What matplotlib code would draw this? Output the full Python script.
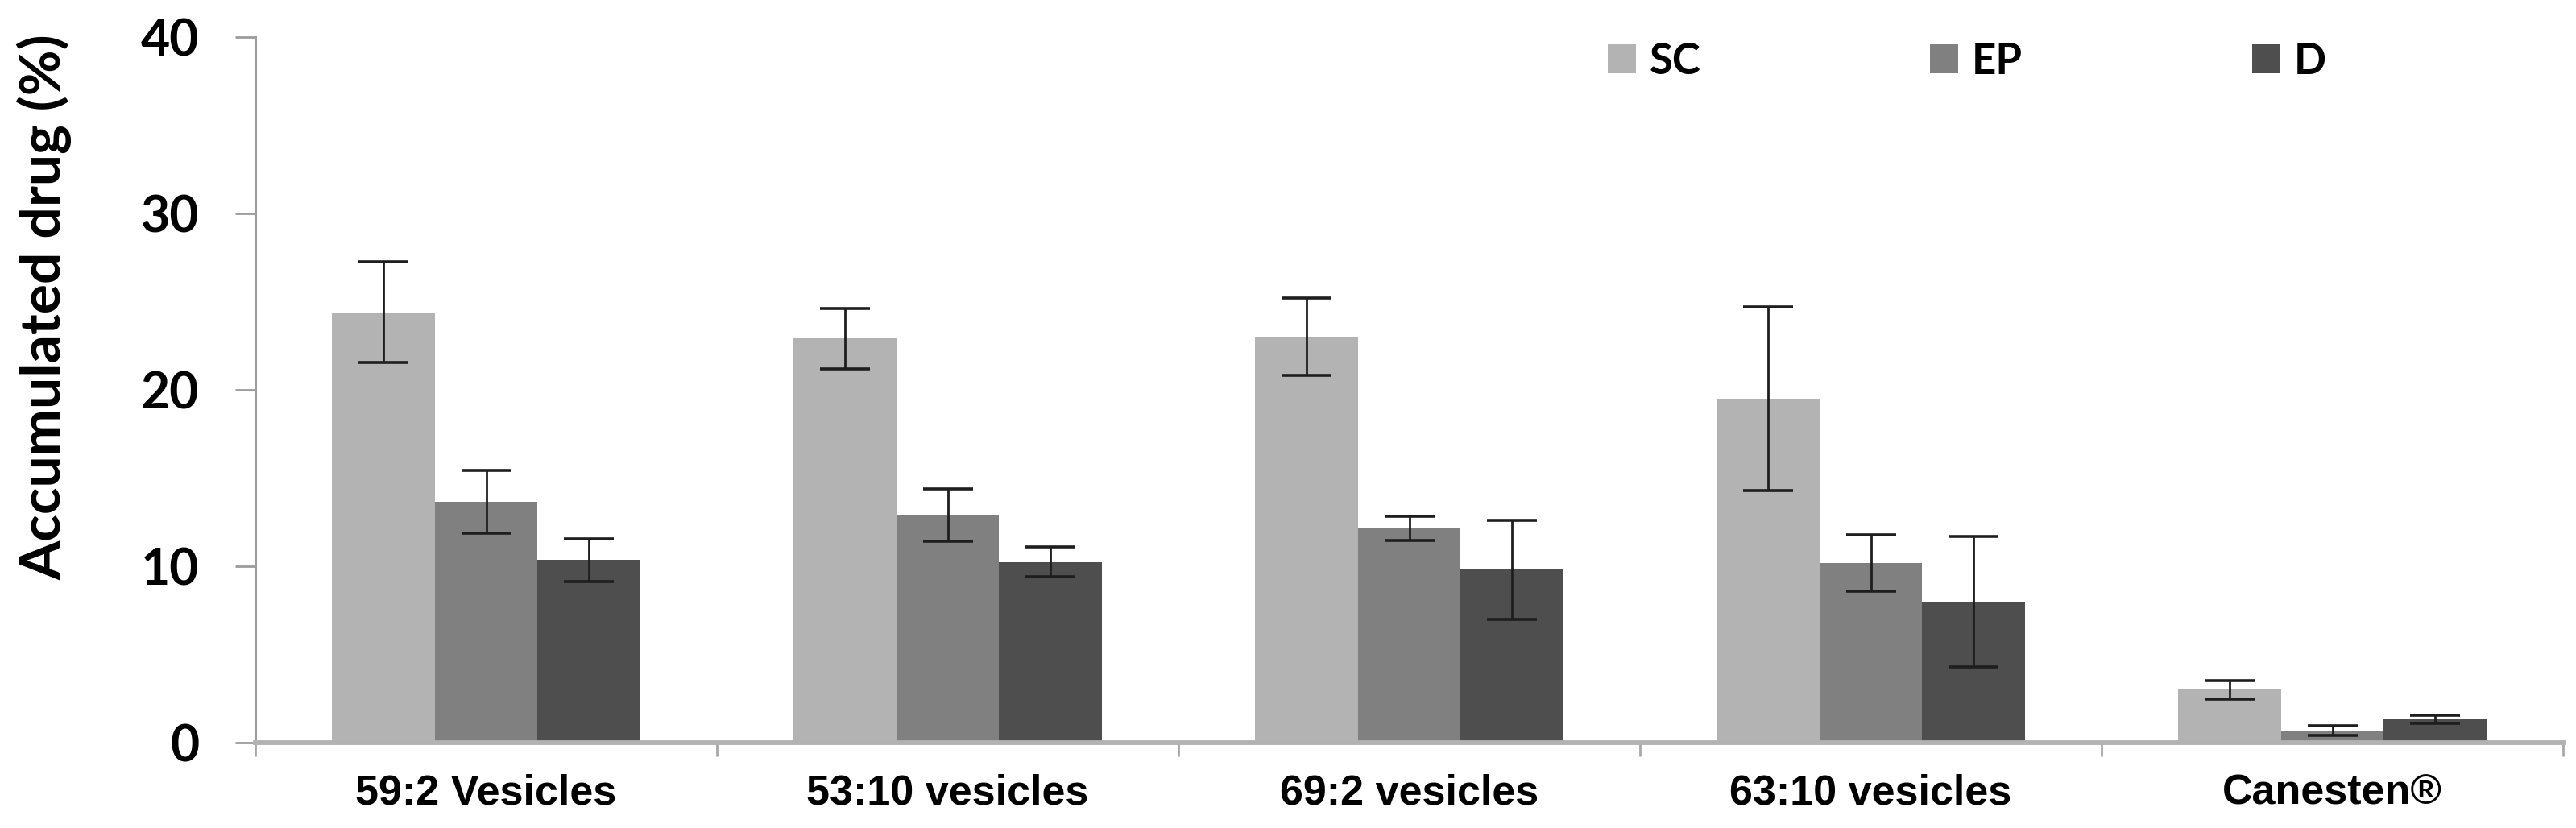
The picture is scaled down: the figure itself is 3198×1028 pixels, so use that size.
import matplotlib
matplotlib.use("Agg")
import matplotlib.pyplot as plt
import numpy as np

# ---- data ----
categories = ["59:2 Vesicles", "53:10 vesicles", "69:2 vesicles", "63:10 vesicles", "Canesten®"]
series_names = ["SC", "EP", "D"]
sc_vals = [24.4, 22.9, 23.0, 19.5, 3.0]
sc_err = [2.85, 1.7, 2.2, 5.2, 0.52]
ep_vals = [13.65, 12.9, 12.15, 10.2, 0.68]
ep_err = [1.8, 1.5, 0.7, 1.6, 0.27]
d_vals = [10.35, 10.25, 9.8, 8.0, 1.33]
d_err = [1.2, 0.85, 2.8, 3.7, 0.24]
y_ticks = [0, 10, 20, 30, 40]
y_label = "Accumulated drug (%)"

colors = ["#b3b3b3", "#808080", "#4e4e4e"]

W, H = 3198, 1028
fig = plt.figure(figsize=(W / 100, H / 100), dpi=100)
ax = fig.add_axes([317 / W, 1 - 922 / H, (3182 - 317) / W, (922 - 46) / H])

x = np.arange(len(categories)) + 0.5
bw = 0.223
vals = [sc_vals, ep_vals, d_vals]
errs = [sc_err, ep_err, d_err]
handles = []
for i, (v, e, c, n) in enumerate(zip(vals, errs, colors, series_names)):
    b = ax.bar(x + (i - 1) * bw, v, width=bw, color=c, label=n, zorder=2,
               yerr=e, capsize=22,
               error_kw=dict(ecolor="#1e1e1e", elinewidth=2.0, capthick=2.6, zorder=3))
    handles.append(b)

ax.set_xlim(0, len(categories))
ax.set_ylim(0, 40)
ax.set_yticks(y_ticks)
ax.set_yticklabels([str(t) for t in y_ticks])

for s in ["top", "right"]:
    ax.spines[s].set_visible(False)
ax.spines["left"].set_color("#9c9c9c")
ax.spines["left"].set_linewidth(2.2)
ax.spines["bottom"].set_color("#b2b2b2")
ax.spines["bottom"].set_linewidth(4.2)

ax.tick_params(axis="y", which="major", direction="out", length=18, width=2.0,
               color="#9c9c9c", pad=32, labelsize=45)
for lbl in ax.get_yticklabels():
    lbl.set_fontfamily("Lato")
    lbl.set_fontweight("bold")

ax.set_xticks(np.arange(len(categories) + 1))
ax.set_xticklabels([])
ax.tick_params(axis="x", which="major", direction="out", length=12, width=2.0,
               color="#a8a8a8")
ax.set_xticks(x, minor=True)
ax.set_xticklabels(categories, minor=True)
ax.tick_params(axis="x", which="minor", length=0, pad=28, labelsize=37.5)
for lbl in ax.get_xticklabels(minor=True):
    lbl.set_fontfamily("Liberation Sans")
    lbl.set_fontweight("bold")

fig.text(55 / W, 1 - 381 / H, y_label, rotation=90, ha="center", va="center",
         fontsize=50, fontfamily="Lato", fontweight="bold")

leg = ax.legend(handles=handles, labels=series_names, ncol=3, frameon=False,
                loc="center left", bbox_to_anchor=(1996 / W, 1 - 76 / H),
                bbox_transform=fig.transFigure, borderpad=0, borderaxespad=0,
                handlelength=0.66, handleheight=0.66, handletextpad=0.32,
                columnspacing=5.4,
                prop={"family": "Lato", "weight": "bold", "size": 38})
for p in leg.get_patches():
    p.set_linewidth(0)

fig.savefig("out.png", dpi=100)
